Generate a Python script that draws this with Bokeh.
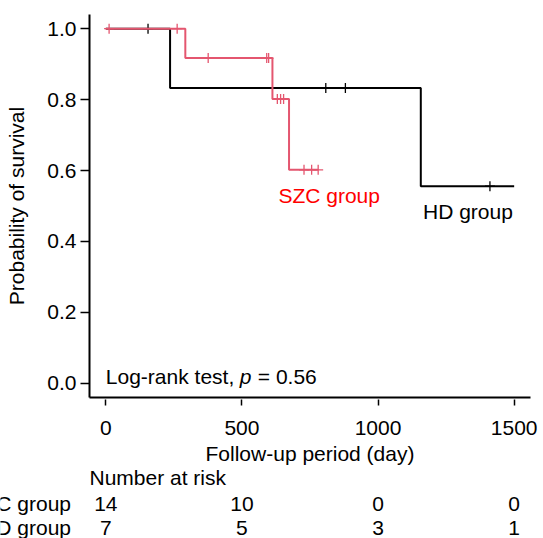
from bokeh.plotting import figure
from bokeh.models import Range1d, FixedTicker, PrintfTickFormatter, Label
from bokeh.core.properties import value
from bokeh.embed import file_html
from bokeh.resources import INLINE

# ---- data ----
hd_step_time = [0, 236, 1157, 1500]
hd_step_surv = [1.0, 0.833, 0.556, 0.556]
hd_cens_time = [155, 808, 880, 1411]
hd_cens_surv = [1.0, 0.833, 0.833, 0.556]

szc_step_time = [0, 292, 612, 673, 780]
szc_step_surv = [1.0, 0.917, 0.802, 0.602, 0.602]
szc_cens_time = [12, 262, 376, 591, 598, 630, 642, 653, 728, 756, 780]
szc_cens_surv = [1.0, 1.0, 0.917, 0.917, 0.917, 0.802, 0.802, 0.802, 0.602, 0.602, 0.602]

x_ticks = [0, 500, 1000, 1500]
y_ticks = [0.0, 0.2, 0.4, 0.6, 0.8, 1.0]
risk_times = [0, 500, 1000, 1500]
szc_at_risk = [14, 10, 0, 0]
hd_at_risk = [7, 5, 3, 1]
group_names = ["SZC group", "HD group"]

FONT = "Liberation Sans"
FS = "21px"
RED_LINE = "#E4566F"
RED_TEXT = "#FF0000"

# ---- layout: the plotting region (axes box) inside a full-canvas frame ----
W, H = 543, 538
BOX_L, BOX_R, BOX_T, BOX_B = 89, 530, 14, 397      # pixel edges of the axes box
X0, X1 = -60, 1560                                  # data extent of the axes box
Y0, Y1 = -0.04, 1.04
ppx = (BOX_R - BOX_L) / (X1 - X0)
ppy = (BOX_B - BOX_T) / (Y1 - Y0)
xr = Range1d(X0 - BOX_L / ppx, X1 + (W - BOX_R) / ppx)
yr = Range1d(Y0 - (H - BOX_B) / ppy, Y1 + BOX_T / ppy)

p = figure(width=W, height=H, output_backend="svg", toolbar_location=None,
           x_range=xr, y_range=yr,
           min_border=0, min_border_left=0, min_border_right=0, min_border_top=0, min_border_bottom=0)
p.title.visible = False
p.outline_line_color = None
p.xgrid.visible = False
p.ygrid.visible = False

# curves
p.step(hd_step_time, hd_step_surv, mode="after", line_color="black", line_width=2)
p.scatter(hd_cens_time, hd_cens_surv, marker="cross", size=10, line_color="black", line_width=1.3)
p.step(szc_step_time, szc_step_surv, mode="after", line_color=RED_LINE, line_width=2)
p.scatter(szc_cens_time, szc_cens_surv, marker="cross", size=10, line_color=RED_LINE, line_width=1.3)

# axes (placed at the edges of the axes box)
for ax in (p.xaxis[0], p.yaxis[0]):
    ax.axis_line_width = 2
    ax.axis_line_color = "black"
    ax.major_tick_line_width = 1.5
    ax.major_tick_line_color = "black"
    ax.minor_tick_line_color = None
    ax.major_label_text_font = FONT
    ax.major_label_text_font_size = FS
    ax.major_label_text_color = "black"
    ax.axis_label_text_font = FONT
    ax.axis_label_text_font_size = FS
    ax.axis_label_text_font_style = "normal"
    ax.axis_label_text_color = "black"

p.xaxis.fixed_location = Y0
p.xaxis.bounds = (X0, X1)
p.xaxis.ticker = FixedTicker(ticks=x_ticks)
p.xaxis.major_tick_in = -2
p.xaxis.major_tick_out = 8
p.xaxis.major_label_standoff = 15
p.xaxis.axis_label = "Follow-up period (day)"
p.xaxis.axis_label_standoff = 4

p.yaxis.fixed_location = X0
p.yaxis.bounds = (Y0, Y1)
p.yaxis.ticker = FixedTicker(ticks=y_ticks)
p.yaxis.formatter = PrintfTickFormatter(format="%.1f")
p.yaxis.major_tick_in = 0
p.yaxis.major_tick_out = 9
p.yaxis.major_label_standoff = 4
p.yaxis.axis_label = "Probability of survival"
p.yaxis.axis_label_standoff = 16

# in-plot annotations
def lab(**kw):
    base = dict(text_font=FONT, text_font_size=FS, text_baseline="middle", text_align="left",
                text_color="black")
    base.update(kw)
    return Label(**base)

p.add_layout(lab(x=634, y=0.531, text="SZC group", text_color=RED_TEXT))
p.add_layout(lab(x=1165, y=0.4835, text="HD group"))
p.add_layout(lab(x=0, y=0.018, text="Log-rank test,"))
p.add_layout(lab(x=0, y=0.018, x_offset=134, text="p", text_font_style="italic"))
p.add_layout(lab(x=0, y=0.018, x_offset=152, text="= 0.56"))

# number-at-risk table, below the axes on the same day scale
ROW_Y = [-0.266, -0.340, -0.4075]
txt = dict(text_font=value(FONT), text_font_size=value(FS), text_color="black", text_baseline="middle")
p.text(x=[X0], y=[ROW_Y[0]], text=["Number at risk"], text_align="left", **txt)
p.text(x=[-128, -128], y=ROW_Y[1:], text=group_names, text_align="right", **txt)
p.text(x=risk_times, y=[ROW_Y[1]] * len(risk_times), text=[str(c) for c in szc_at_risk],
       text_align="center", **txt)
p.text(x=risk_times, y=[ROW_Y[2]] * len(risk_times), text=[str(c) for c in hd_at_risk],
       text_align="center", **txt)

open("out.html", "w").write(file_html(p, INLINE))
